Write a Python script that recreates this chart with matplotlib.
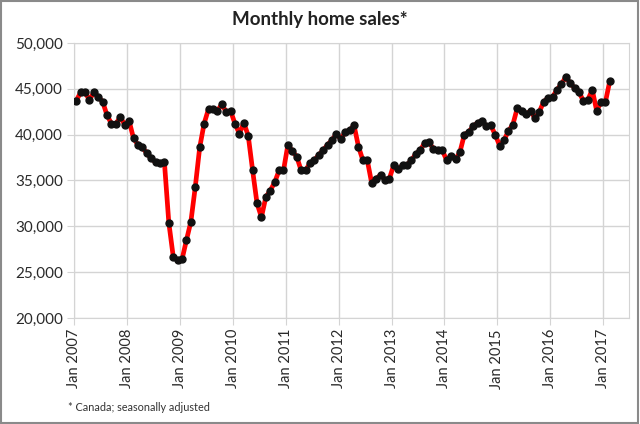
import matplotlib
matplotlib.use("Agg")
import matplotlib.pyplot as plt
from matplotlib.patches import Rectangle

plt.rcParams['font.family'] = ['Lato', 'DejaVu Sans']

# Monthly home sales (thousands), Jan 2007 .. Feb 2017
sales_2007 = [43.7, 44.6, 44.6, 43.8, 44.6, 44.1, 43.6, 42.1, 41.2, 41.2, 41.9, 41.1]
sales_2008 = [41.5, 39.6, 38.9, 38.6, 38.0, 37.4, 37.0, 36.9, 37.0, 30.4, 26.7, 26.3]
sales_2009 = [26.4, 28.5, 30.5, 34.3, 38.6, 41.2, 42.8, 42.8, 42.6, 43.3, 42.5, 42.6]
sales_2010 = [41.2, 40.1, 41.3, 39.9, 36.1, 32.5, 31.0, 33.2, 33.9, 34.8, 36.1, 36.1]
sales_2011 = [38.9, 38.2, 37.6, 36.1, 36.1, 36.9, 37.2, 37.8, 38.3, 38.9, 39.4, 40.1]
sales_2012 = [39.5, 40.3, 40.5, 41.0, 38.7, 37.2, 37.2, 34.7, 35.2, 35.6, 35.1, 35.2]
sales_2013 = [36.7, 36.2, 36.7, 36.7, 37.2, 37.9, 38.3, 39.1, 39.2, 38.4, 38.3, 38.3]
sales_2014 = [37.2, 37.7, 37.3, 38.1, 40.0, 40.3, 40.9, 41.3, 41.5, 40.9, 41.0, 40.0]
sales_2015 = [38.8, 39.4, 40.4, 41.1, 42.9, 42.6, 42.2, 42.6, 41.8, 42.5, 43.6, 44.0]
sales_2016 = [44.1, 44.9, 45.5, 46.3, 45.6, 45.1, 44.6, 43.7, 43.8, 44.9, 42.6, 43.6]
sales_2017 = [43.6, 45.9]

years = [2007, 2008, 2009, 2010, 2011, 2012, 2013, 2014, 2015, 2016, 2017]
tick_labels = [f"Jan {y}" for y in years]
y_ticks = [20000, 25000, 30000, 35000, 40000, 45000, 50000]

sales = [v * 1000 for v in (sales_2007 + sales_2008 + sales_2009 + sales_2010 +
                            sales_2011 + sales_2012 + sales_2013 + sales_2014 +
                            sales_2015 + sales_2016 + sales_2017)]
xpos = [i + 0.5 for i in range(len(sales))]

fig = plt.figure(figsize=(6.4, 4.24), dpi=100)
ax = fig.add_axes([0.1156, 0.25, 0.867, 0.6486])

ax.plot(xpos, sales, color='#ff0000', lw=3.4, zorder=3, solid_capstyle='round')
ax.plot(xpos, sales, ls='none', marker='o', ms=5, color='#111111', zorder=4)

ax.set_xlim(0, 125.8)
ax.set_ylim(20000, 50000)
ax.set_yticks(y_ticks)
ax.set_yticklabels([f"{v:,}" for v in y_ticks])
ax.set_xticks([12 * i for i in range(len(years))])
ax.set_xticklabels(tick_labels, rotation=90)

ax.grid(True, color='#d4d4d4', lw=1)
ax.set_axisbelow(True)
for s in ax.spines.values():
    s.set_color('#d4d4d4')
ax.tick_params(axis='both', colors='#d4d4d4', length=5, labelcolor='#2a2a2a',
               labelsize=11)
ax.tick_params(axis='y', pad=3)
ax.tick_params(axis='x', pad=3, labelsize=10.5)

fig.text(0.5, 0.955, "Monthly home sales*", ha='center', va='center',
         fontsize=13.5, fontweight='bold', color='#222222')
fig.text(0.106, 0.038, "* Canada; seasonally adjusted", ha='left', va='center',
         fontsize=7.8, color='#333333')

fig.patches.append(Rectangle((0.002, 0.003), 0.995, 0.994, transform=fig.transFigure,
                             fill=False, edgecolor='#8a8a8a', lw=1.5))

fig.savefig("out.png", dpi=100)
